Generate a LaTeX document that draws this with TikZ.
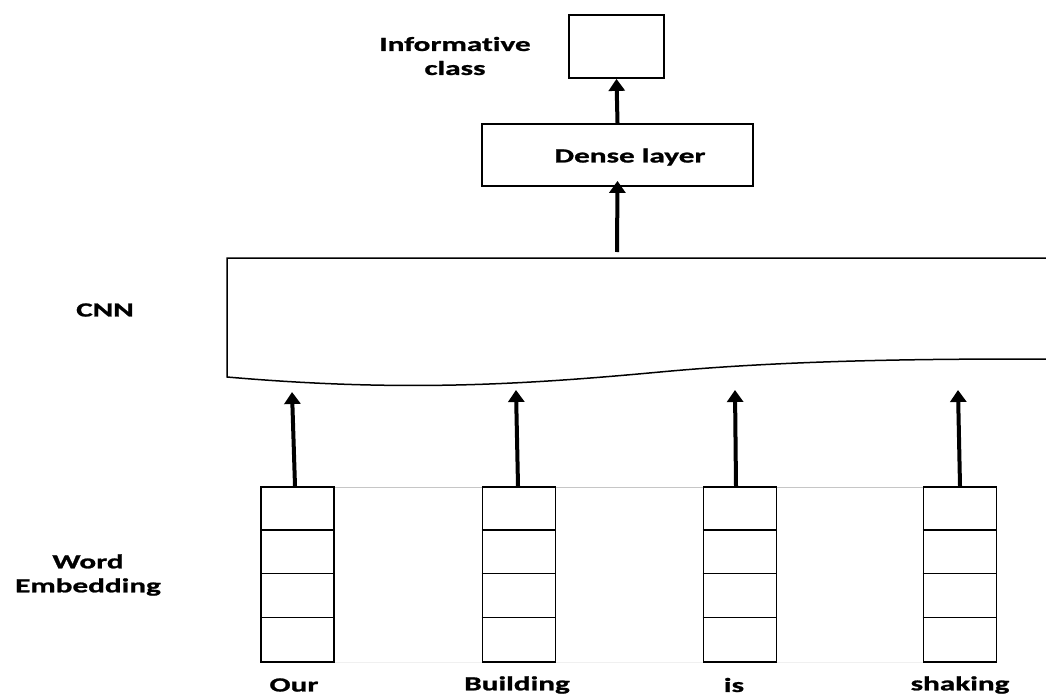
\documentclass[tikz,border=0pt]{standalone}
\usepackage{fontspec}
\setmainfont[FakeStretch=1.56, Ligatures={NoCommon}, BoldFeatures={FakeBold=1.2}]{Carlito}
\usetikzlibrary{arrows.meta}
\begin{document}
\begin{tikzpicture}[x=1pt,y=-1pt,
  lbl/.style={font=\fontsize{20}{24}\selectfont\bfseries, align=center, inner sep=0pt},
  box/.style={draw=black, line width=1.8pt, inner sep=0pt},
  emb/.style={box, minimum width=73pt, minimum height=175pt},
  uparrow/.style={line width=4pt, -{Triangle[width=16pt,length=12pt]}}
]
\useasboundingbox (0,0) rectangle (1046,693);

% output and dense layer
\node[box, minimum width=95pt, minimum height=63pt] (out) at (616.5,46.5) {};
\node[box, minimum width=271pt, minimum height=62pt] (dense) at (617.5,155) {};
\node[lbl] (densetxt) at (630,157) {Dense layer};
\node[lbl] (outtxt) at (455,56) {Informative\\class};

% CNN block with wavy lower edge
\coordinate (cnnTR) at (1046,258);
\coordinate (cnnTL) at (227,258);
\coordinate (cnnBL) at (227,377);
\coordinate (cnnBR) at (1046,359);
\draw[line width=1.5pt] (cnnTR) -- (cnnTL) -- (cnnBL)
  .. controls (400,392) and (520,385) .. (660,372)
  .. controls (800,359) and (950,359) .. (cnnBR);
\node[lbl] (cnntxt) at (105,310) {CNN};
\coordinate (cnntop) at (617,252);

% faint guide lines between the embedding columns
\draw[gray!45, line width=1pt] (334,487) -- (923,487);
\draw[gray!12, line width=1pt] (334,662) -- (923,662);

% word embedding columns
\foreach \i/\x in {1/297.5, 2/519, 3/740, 4/960}{
  \node[emb] (e\i) at (\x,574.5) {};
  \foreach \k in {1,2,3}{
    \draw[line width=1.5pt] ([yshift=-\k*43.75pt]e\i.north west) -- ([yshift=-\k*43.75pt]e\i.north east);
  }
}
\node[lbl] (w1) at (294,685) {Our};
\node[lbl] (w2) at (517,685) {Building};
\node[lbl] (w3) at (734,685) {is};
\node[lbl] (w4) at (960,685) {shaking};
\node[lbl] (embtxt) at (88,575) {Word\\Embedding};

% arrows into the CNN
\coordinate (t1) at (292,392);
\coordinate (t2) at (516,390);
\coordinate (t3) at (735,390);
\coordinate (t4) at (958,390);
\draw[uparrow] ([xshift=-2.5pt]e1.north) -- (t1);
\draw[uparrow] ([xshift=-1pt]e2.north) -- (t2);
\draw[uparrow] ([xshift=-4pt]e3.north) -- (t3);
\draw[uparrow] ([xshift=0pt]e4.north) -- (t4);

% arrows to dense layer and output
\draw[uparrow] (cnntop) -- ([yshift=6pt]dense.south);
\draw[uparrow] (dense.north) -- (out.south);
\end{tikzpicture}
\end{document}
